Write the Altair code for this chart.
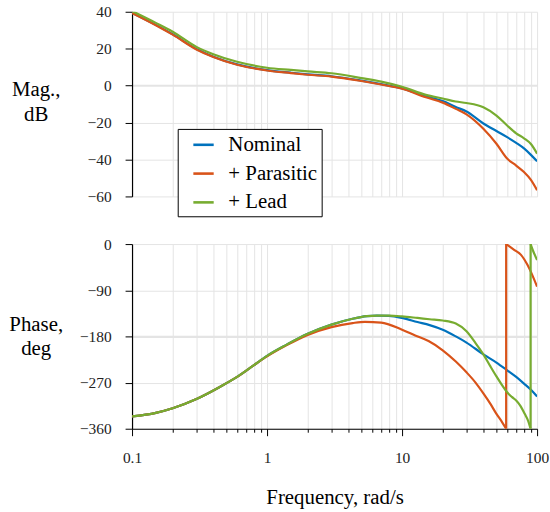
import altair as alt
import pandas as pd

SERIES = ["Nominal", "+ Parasitic", "+ Lead"]
COLORS = ["#0072BD", "#D95319", "#77AC30"]

# ---- magnitude (dB) ----
FREQ_MAG = [0.1, 0.15, 0.2, 0.3, 0.4, 0.6, 1, 1.5, 2, 3, 5, 7, 10, 15, 20, 25, 30, 40, 50, 60, 70, 80, 90, 100]
MAG_NOMINAL = [39.5, 32.9, 27.8, 19.8, 15.7, 11.5, 8.4, 7.0, 6.1, 5.1, 2.7, 0.8, -1.5, -5.8, -8.4, -11.6, -14.0, -20.5, -24.6, -27.9, -31.0, -34.0, -37.5, -41.0]
MAG_PARASITIC = [39.3, 32.7, 27.6, 19.6, 15.5, 11.3, 8.2, 6.8, 5.9, 4.9, 2.5, 0.6, -1.7, -6.3, -9.2, -12.6, -15.6, -23.4, -31.5, -39.5, -43.3, -46.8, -51.0, -56.6]
MAG_LEAD = [40.4, 34.0, 29.2, 21.0, 17.0, 12.9, 9.7, 8.5, 7.7, 6.7, 4.1, 2.2, -0.6, -5.0, -7.0, -8.6, -9.4, -11.7, -16.2, -21.6, -25.8, -28.5, -31.6, -36.8]

# ---- phase (deg), wrapped into [-360, 0] ----
PH_NOM_F = [0.1, 0.15, 0.2, 0.3, 0.45, 0.6, 0.8, 1, 1.4, 2, 3, 4.3, 5.5, 6.5, 8, 10, 13, 16, 20, 25, 30, 40, 50, 60, 70, 80, 90, 100]
PH_NOM = [-336, -329, -320, -302, -278, -259, -236, -218, -196, -175, -157, -145.5, -140.5, -139.4, -140, -144, -152, -158, -167, -180, -192, -215, -231, -246, -259, -272, -284, -297]

PH_PAR_F1 = [0.1, 0.15, 0.2, 0.3, 0.45, 0.6, 0.8, 1, 1.4, 2, 3, 4.3, 5.3, 7, 10, 12.5, 15.7, 20, 25, 30, 35, 40, 45, 50, 55, 59]
PH_PAR_1 = [-336, -329, -320, -302, -278, -259, -236, -219, -197, -177, -162, -154, -151.5, -153, -167, -178, -189, -207, -229, -250, -270, -291, -311, -331, -347, -360]
PH_PAR_F2 = [59, 62, 68, 76, 85, 92, 100]
PH_PAR_2 = [0, -4, -11.6, -21, -41, -60, -83]

PH_LEAD_F1 = [0.1, 0.15, 0.2, 0.3, 0.45, 0.6, 0.8, 1, 1.4, 2, 3, 4.3, 5.5, 6.5, 8, 10, 13, 16, 20, 25, 30, 35, 40, 45, 50, 55, 60, 65, 70, 75, 81, 86, 89.5]
PH_LEAD_1 = [-336, -329, -320, -302, -278, -259, -236, -218, -196, -175, -157, -145.5, -140.5, -139.4, -139.5, -141, -144, -146.5, -149, -155, -170, -193, -215, -238, -258, -275, -289, -298, -305, -315, -331, -345, -360]
PH_LEAD_F2 = [89.5, 93, 100]
PH_LEAD_2 = [0, -12, -31]

GRID_F = [0.1, 0.2, 0.3, 0.4, 0.5, 0.6, 0.7, 0.8, 0.9,
          1, 2, 3, 4, 5, 6, 7, 8, 9,
          10, 20, 30, 40, 50, 60, 70, 80, 90, 100]
MAG_TICKS = [40, 20, 0, -20, -40, -60]
PH_TICKS = [0, -90, -180, -270, -360]

FONT = "Liberation Serif"

# build tables
mag_rows = []
for name, vals in zip(SERIES, [MAG_NOMINAL, MAG_PARASITIC, MAG_LEAD]):
    for i, (f, v) in enumerate(zip(FREQ_MAG, vals)):
        mag_rows.append({"series": name, "seg": name + "a", "f": f, "v": v, "i": i})
mag_df = pd.DataFrame(mag_rows)

ph_rows = []
def add_seg(name, seg, fs, vs):
    for i, (f, v) in enumerate(zip(fs, vs)):
        ph_rows.append({"series": name, "seg": seg, "f": f, "v": v, "i": i})

add_seg("Nominal", "n1", PH_NOM_F, PH_NOM)
add_seg("+ Parasitic", "p1", PH_PAR_F1, PH_PAR_1)
add_seg("+ Parasitic", "pj", [PH_PAR_F1[-1], PH_PAR_F2[0]], [PH_PAR_1[-1], PH_PAR_2[0]])
add_seg("+ Parasitic", "p2", PH_PAR_F2, PH_PAR_2)
add_seg("+ Lead", "l1", PH_LEAD_F1, PH_LEAD_1)
add_seg("+ Lead", "lj", [PH_LEAD_F1[-1], PH_LEAD_F2[0]], [PH_LEAD_1[-1], PH_LEAD_2[0]])
add_seg("+ Lead", "l2", PH_LEAD_F2, PH_LEAD_2)
ph_df = pd.DataFrame(ph_rows)

xscale = alt.Scale(type="log", domain=[0.1, 100], nice=False)
GRID_COLOR = "#e4e4e4"

color = alt.Color(
    "series:N",
    scale=alt.Scale(domain=SERIES, range=COLORS),
    legend=alt.Legend(
        title=None, orient="none", legendX=46, legendY=118,
        padding=4, strokeColor="black", fillColor="white", cornerRadius=0,
        symbolType="stroke", symbolSize=420, symbolStrokeWidth=2.6,
        symbolOffset=10, labelFontSize=21, labelColor="black",
        labelOffset=13, rowPadding=7, labelLimit=300,
    ),
    sort=SERIES,
)

top = alt.Chart(mag_df).mark_line(strokeWidth=2.2, clip=True, interpolate="monotone").encode(
    x=alt.X("f:Q", scale=xscale,
            axis=alt.Axis(values=GRID_F, grid=True, domain=False, ticks=False, labels=False,
                          title=None, gridColor=GRID_COLOR, gridWidth=1)),
    y=alt.Y("v:Q", scale=alt.Scale(domain=[-60, 40], nice=False, zero=False),
            axis=alt.Axis(values=MAG_TICKS, title=["Mag.,", "dB"], titleAngle=0,
                          titleAlign="center", titleBaseline="alphabetic",
                          titleX=-97, titleY=84, titleFontSize=21,
                          titleFontWeight="normal", titleLineHeight=26, titleColor="black",
                          domainColor="black", domainWidth=1.2, tickColor="black", tickSize=7,
                          labelPadding=14, labelFontSize=15.5, labelColor="#222222",
                          gridColor=GRID_COLOR,
                          gridWidth={"condition": {"test": "datum.value == 0", "value": 2.2}, "value": 1})),
    color=color,
    detail="seg:N",
    order="i:Q",
).properties(width=408, height=186)

bottom = alt.Chart(ph_df).mark_line(strokeWidth=2.2, clip=True, interpolate="monotone").encode(
    x=alt.X("f:Q", scale=xscale,
            axis=alt.Axis(values=GRID_F, grid=True, domainColor="black", domainWidth=1.2,
                          tickColor="black",
                          tickSize={"condition": {"test": "datum.value == 0.1 || datum.value == 1 || datum.value == 10 || datum.value == 100", "value": 7}, "value": 3.5},
                          labelExpr="(datum.value == 0.1 || datum.value == 1 || datum.value == 10 || datum.value == 100) ? format(datum.value, '~g') : ''",
                          labelOverlap=False, labelFlush=False, labelPadding=15,
                          labelFontSize=15.5, labelColor="#222222",
                          title="Frequency, rad/s", titleFontSize=21,
                          titleFontWeight="normal", titleColor="black",
                          titleBaseline="alphabetic", titleY=75,
                          gridColor=GRID_COLOR, gridWidth=1)),
    y=alt.Y("v:Q", scale=alt.Scale(domain=[-360, 0], nice=False, zero=False),
            axis=alt.Axis(values=PH_TICKS, title=["Phase,", "deg"], titleAngle=0,
                          titleAlign="center", titleBaseline="alphabetic",
                          titleX=-97, titleY=87, titleFontSize=21,
                          titleFontWeight="normal", titleLineHeight=24, titleColor="black",
                          domainColor="black", domainWidth=1.2, tickColor="black", tickSize=7,
                          labelPadding=14, labelFontSize=15.5, labelColor="#222222",
                          gridColor=GRID_COLOR,
                          gridWidth={"condition": {"test": "datum.value == -180", "value": 2.2}, "value": 1})),
    color=color,
    detail="seg:N",
    order="i:Q",
).properties(width=408, height=186)

chart = alt.vconcat(top, bottom, spacing=48, bounds="flush").resolve_scale(
    y="independent"
).properties(
    padding={"left": 8, "top": 2, "right": 0, "bottom": 0},
).configure(font=FONT).configure_axis(
    labelFont=FONT, titleFont=FONT
).configure_legend(labelFont=FONT).configure_view(stroke="transparent")

chart.save("out.html", embed_options={"renderer": "svg", "actions": False})
